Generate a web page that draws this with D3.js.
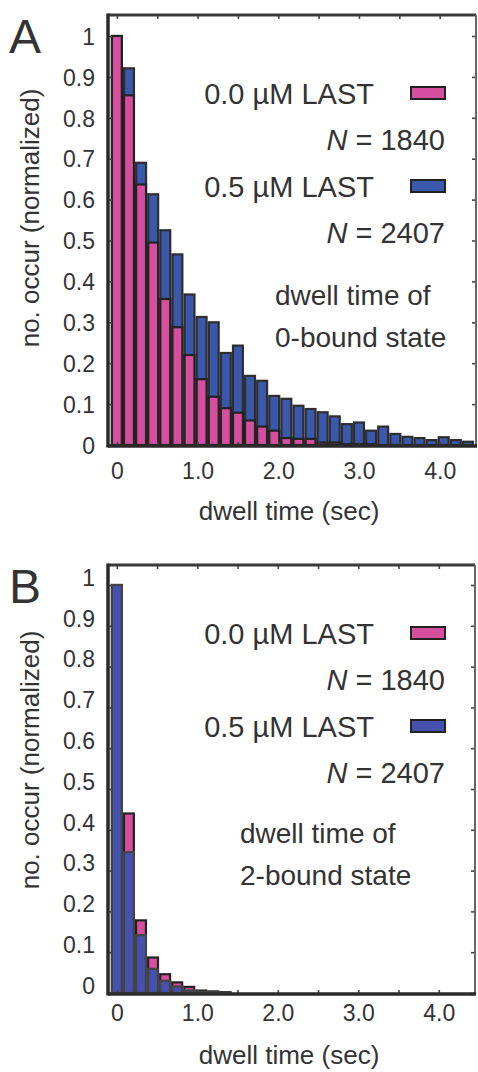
<!DOCTYPE html>
<html><head><meta charset="utf-8">
<script src="https://cdn.jsdelivr.net/npm/d3@7"></script>
<style>
body{margin:0;background:#fff}
svg{display:block}
text{font-family:"Liberation Sans",Arial,Helvetica,sans-serif;fill:#333}
</style>
</head><body>
<script>
// ---- data ----
const binCenters = [0,0.15,0.3,0.45,0.6,0.75,0.9,1.05,1.2,1.35,1.5,1.65,1.8,1.95,2.1,2.25,2.4,2.55,2.7,2.85,3.0,3.15,3.3,3.45,3.6,3.75,3.9,4.05,4.2,4.35];
const binWidth = 0.15;
// Panel A: dwell time of 0-bound state
const a_0uM = [1.0,0.855,0.637,0.495,0.357,0.288,0.22,0.161,0.118,0.09,0.079,0.06,0.045,0.035,0.017,0.015,0.015,0.006,0.006,0.002,0.002,0.002,0,0,0,0,0,0,0,0];
const a_05uM = [1.0,0.921,0.69,0.613,0.525,0.466,0.368,0.313,0.30,0.225,0.243,0.169,0.157,0.12,0.113,0.096,0.088,0.08,0.07,0.051,0.055,0.035,0.045,0.027,0.02,0.017,0.012,0.019,0.012,0.008];
// Panel B: dwell time of 2-bound state
const b_0uM = [1.0,0.44,0.178,0.087,0.046,0.026,0.015,0.006,0.004,0.002,0,0,0,0,0,0,0,0,0,0,0,0,0,0,0,0,0,0,0,0];
const b_05uM = [1.0,0.345,0.142,0.059,0.03,0.016,0.006,0.003,0.002,0.001,0,0,0,0,0,0,0,0,0,0,0,0,0,0,0,0,0,0,0,0];
const yTickValues = [0,0.1,0.2,0.3,0.4,0.5,0.6,0.7,0.8,0.9,1];
const yTickLabels = ["0","0.1","0.2","0.3","0.4","0.5","0.6","0.7","0.8","0.9","1"];
const xTickValues = [0,1,2,3,4];
const xTickLabels = ["0","1.0","2.0","3.0","4.0"];
const xMinorTicks = [0,0.5,1,1.5,2,2.5,3,3.5,4];
const legendLabels = ["0.0 \u00B5M LAST","0.5 \u00B5M LAST"];
const legendN = ["1840","2407"];
const pink = "#d64f9f", blueA = "#3a59ad", blueB = "#4650ae";

const W = 478, H = 1072;
const svg = d3.select("body").append("svg").attr("width",W).attr("height",H);
svg.append("rect").attr("width",W).attr("height",H).attr("fill","#fff");

function panel(o){
  const g = svg.append("g");
  const x = d3.scaleLinear().domain([-0.11,4.45]).range([o.left,o.right]);
  const y = d3.scaleLinear().domain([0,1]).range([o.y0,o.y1]);
  const bwPx = x(binWidth)-x(0);

  function bars(vals,fill,stroke){
    g.append("g").selectAll("rect").data(binCenters.map((c,i)=>({c,v:vals[i]})).filter(d=>d.v>0))
      .join("rect")
      .attr("x",d=>x(d.c)-bwPx/2+1.1)
      .attr("width",bwPx-2.2)
      .attr("y",d=>y(d.v))
      .attr("height",d=>o.y0-y(d.v))
      .attr("fill",fill).attr("stroke",stroke).attr("stroke-width",2.2);
  }
  bars(o.back,o.backColor,o.backStroke);
  bars(o.front,o.frontColor,o.frontStroke);

  // inward ticks
  const tickStyle = s => s.call(a=>a.select(".domain").remove()).selectAll("line").attr("stroke","#444").attr("stroke-width",1.6);
  g.append("g").attr("transform",`translate(${o.left},0)`).call(d3.axisLeft(y).tickValues(yTickValues).tickSize(-4).tickFormat("")).call(tickStyle);
  g.append("g").attr("transform",`translate(${o.right},0)`).call(d3.axisRight(y).tickValues(yTickValues).tickSize(-4).tickFormat("")).call(tickStyle);
  g.append("g").attr("transform",`translate(0,${o.top})`).call(d3.axisTop(x).tickValues(xMinorTicks).tickSize(-4).tickFormat("")).call(tickStyle);
  g.append("g").attr("transform",`translate(0,${o.bottom})`).call(d3.axisBottom(x).tickValues(xMinorTicks).tickSize(-4).tickFormat("")).call(tickStyle);

  // frame
  g.append("line").attr("x1",o.left).attr("x2",o.right).attr("y1",o.top).attr("y2",o.top).attr("stroke","#3a3a3a").attr("stroke-width",3);
  g.append("line").attr("x1",o.right).attr("x2",o.right).attr("y1",o.top).attr("y2",o.bottom).attr("stroke","#666").attr("stroke-width",2);
  g.append("line").attr("x1",o.left).attr("x2",o.left).attr("y1",o.top-1.5).attr("y2",o.bottom+1.5).attr("stroke","#2a2a2a").attr("stroke-width",3.5);
  g.append("line").attr("x1",o.left).attr("x2",o.right+1).attr("y1",o.bottom).attr("y2",o.bottom).attr("stroke","#2a2a2a").attr("stroke-width",3.5);

  // tick labels
  const yl = g.append("g").attr("transform",`translate(${o.left},0)`)
    .call(d3.axisLeft(y).tickValues(yTickValues).tickSize(0).tickPadding(13).tickFormat((d,i)=>yTickLabels[i]));
  yl.select(".domain").remove();
  yl.selectAll("text").attr("font-size",23).attr("fill","#333").attr("dy","0.36em").attr("transform",`translate(0,${o.ylabShift})`)
    .style("font-family","'Liberation Sans',Arial,sans-serif");
  const xl = g.append("g").attr("transform",`translate(0,${o.bottom})`)
    .call(d3.axisBottom(x).tickValues(xTickValues).tickSize(0).tickPadding(o.xPad).tickFormat((d,i)=>xTickLabels[i]));
  xl.select(".domain").remove();
  xl.selectAll("text").attr("font-size",23).attr("fill","#333").style("font-family","'Liberation Sans',Arial,sans-serif");

  // axis titles
  g.append("text").attr("x",289).attr("y",o.xTitleY).attr("text-anchor","middle").attr("font-size",26).text("dwell time (sec)");
  g.append("text").attr("transform",`translate(${o.yTitleX},${o.yTitleY}) rotate(-90)`).attr("text-anchor","middle").attr("font-size",26).text("no. occur (normalized)");
  // panel letter
  g.append("text").attr("x",9).attr("y",o.letterY).attr("font-size",48).attr("fill","#111").text(o.letter);

  // legend
  const lt = o.legendTop;
  [0,1].forEach(i=>{
    const by = lt + i*93;
    g.append("text").attr("x",374).attr("y",by).attr("text-anchor","end").attr("font-size",29).text(legendLabels[i]);
    g.append("rect").attr("x",411).attr("y",by-17).attr("width",34).attr("height",12)
      .attr("fill",i===0?pink:o.blue).attr("stroke","#222").attr("stroke-width",2);
    const t = g.append("text").attr("x",445).attr("y",by+46).attr("text-anchor","end").attr("font-size",29);
    t.append("tspan").attr("font-style","italic").text("N");
    t.append("tspan").text(" = "+legendN[i]);
  });
  g.append("text").attr("x",o.noteX).attr("y",o.noteY).attr("font-size",28).text("dwell time of");
  g.append("text").attr("x",o.noteX).attr("y",o.noteY+42).attr("font-size",28).text(o.note2);
}

panel({letter:"A",letterY:53,left:108,right:476,top:15,bottom:446,y0:445,y1:36,
  back:a_05uM,backColor:blueA,backStroke:"#2e2e2e",front:a_0uM,frontColor:pink,frontStroke:"#222",blue:blueA,
  ylabShift:0,xPad:17,xTitleY:520,yTitleX:39,yTitleY:218,legendTop:104,noteX:275,noteY:305,note2:"0-bound state"});
panel({letter:"B",letterY:603,left:108,right:475,top:565,bottom:994,y0:993,y1:585,
  back:b_0uM,backColor:pink,backStroke:"#222",front:b_05uM,frontColor:blueB,frontStroke:"#444",blue:blueB,
  ylabShift:-8,xPad:11,xTitleY:1064,yTitleX:39,yTitleY:760,legendTop:644,noteX:240,noteY:843,note2:"2-bound state"});
</script>
</body></html>
